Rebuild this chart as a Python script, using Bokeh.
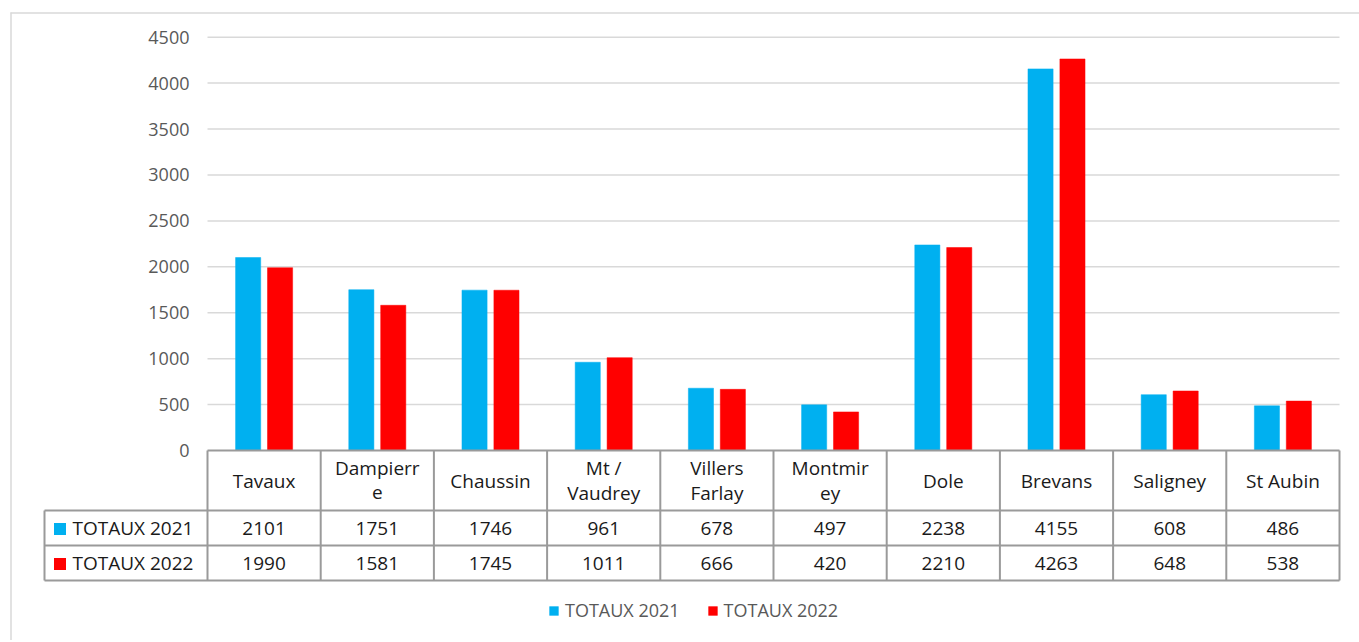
from bokeh.plotting import figure
from bokeh.models import Range1d, Legend, LegendItem
from bokeh.embed import file_html
from bokeh.resources import INLINE
from bokeh.core.properties import value

# ---------------- data ----------------
categories = ["Tavaux", "Dampierre", "Chaussin", "Mt / Vaudrey", "Villers Farlay",
              "Montmirey", "Dole", "Brevans", "Saligney", "St Aubin"]
header_labels = ["Tavaux", "Dampierr\ne", "Chaussin", "Mt /\nVaudrey", "Villers\nFarlay",
                 "Montmir\ney", "Dole", "Brevans", "Saligney", "St Aubin"]
totaux_2021 = [2101, 1751, 1746, 961, 678, 497, 2238, 4155, 608, 486]
totaux_2022 = [1990, 1581, 1745, 1011, 666, 420, 2210, 4263, 648, 538]
series_names = ["TOTAUX 2021", "TOTAUX 2022"]
series_colors = ["#00B0F0", "#FF0000"]
y_ticks = [0, 500, 1000, 1500, 2000, 2500, 3000, 3500, 4000, 4500]
y_tick_labels = [str(t) for t in y_ticks]

# ---------------- geometry helpers (screen px -> data) ----------------
W, H = 1359, 640
OFF = 0
CAT_PX = 113.2
X0_PX = 207.0
ZERO_PX = 450.0
PX_PER_UNIT = 413.3 / 4500.0

def X(sx):
    return (sx - X0_PX) / CAT_PX

def Y(sy):
    return (ZERO_PX - sy) / PX_PER_UNIT

FONT = value("Open Sans")
TABLE_LINE = "#9a9a9a"
GRID = "#D9D9D9"
TXT = "#1a1a1a"
AXIS_TXT = "#595959"

p = figure(width=W, height=H, output_backend="svg", toolbar_location=None,
           x_range=Range1d(X(OFF), X(OFF + W)), y_range=Range1d(Y(OFF + H), Y(OFF)),
           x_axis_location=None, y_axis_location=None, min_border=0)
p.grid.visible = False
p.outline_line_color = None
p.background_fill_color = "white"

n = len(categories)

# outer chart border (left and top visible)
p.segment(x0=[X(10.5), X(10)], y0=[Y(12), Y(12.5)], x1=[X(10.5), X(OFF + W)], y1=[Y(OFF + H), Y(12.5)],
          line_color=GRID, line_width=1.5)

# gridlines
grid_vals = [t for t in y_ticks if t > 0]
p.segment(x0=[0] * len(grid_vals), y0=grid_vals, x1=[n] * len(grid_vals), y1=grid_vals,
          line_color=GRID, line_width=1.5)

# y tick labels
p.text(x=[X(189)] * len(y_ticks), y=y_ticks, text=y_tick_labels, text_align="right",
       text_baseline="middle", text_font=FONT, text_font_size="18px", text_color=AXIS_TXT)

# bars
bar_w = 0.222
off = 0.141
centers = [i + 0.5 for i in range(n)]
r1 = p.vbar(x=[c - off for c in centers], top=totaux_2021, bottom=0, width=bar_w,
            fill_color=series_colors[0], line_color=series_colors[0], line_width=0.5)
r2 = p.vbar(x=[c + off for c in centers], top=totaux_2022, bottom=0, width=bar_w,
            fill_color=series_colors[1], line_color=series_colors[1], line_width=0.5)

# data table lines
hx0 = [0, X(44), X(44), X(44)]
hy = [Y(450), Y(510), Y(545), Y(580)]
p.segment(x0=hx0, y0=hy, x1=[n] * 4, y1=hy, line_color=TABLE_LINE, line_width=2)
vx = [X(44)] + list(range(n + 1))
vy0 = [Y(510)] + [Y(450)] * (n + 1)
p.segment(x0=vx, y0=vy0, x1=vx, y1=[Y(580)] * len(vx), line_color=TABLE_LINE, line_width=2)

# header texts
hx, hyy, ht = [], [], []
for i, lab in enumerate(header_labels):
    lines = lab.split("\n")
    if len(lines) == 1:
        hx.append(centers[i]); hyy.append(Y(480)); ht.append(lines[0])
    else:
        hx += [centers[i], centers[i]]
        hyy += [Y(467), Y(492)]
        ht += lines
p.text(x=hx, y=hyy, text=ht, text_align="center", text_baseline="middle",
       text_font=FONT, text_font_size="19px", text_color=TXT)

# value rows
row_y = [Y(527.5), Y(562.5)]
for vals, ry in zip([totaux_2021, totaux_2022], row_y):
    p.text(x=centers, y=[ry] * n, text=[str(v) for v in vals], text_align="center",
           text_baseline="middle", text_font=FONT, text_font_size="19px", text_color=TXT)

# row labels with keys
p.scatter(x=[X(59.5)] * 2, y=[Y(528.5), Y(563.5)], marker="square", size=12,
          fill_color=series_colors, line_color=None)
p.text(x=[X(72)] * 2, y=row_y, text=series_names, text_align="left", text_baseline="middle",
       text_font=FONT, text_font_size="19px", text_color=TXT)

# legend
legend = Legend(items=[LegendItem(label=series_names[0], renderers=[r1]),
                       LegendItem(label=series_names[1], renderers=[r2])],
                orientation="horizontal", location=(548, 18),
                glyph_width=11, glyph_height=11, label_standoff=6, spacing=27,
                padding=0, margin=0, border_line_color=None, background_fill_alpha=0,
                label_text_font="Open Sans", label_text_font_size="18px",
                label_text_color=AXIS_TXT)
p.add_layout(legend, "center")

open("out.html", "w").write(file_html(p, INLINE))
